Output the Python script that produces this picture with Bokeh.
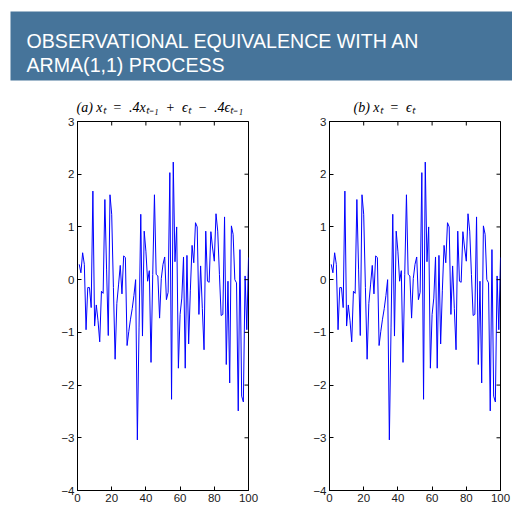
import math
from bokeh.plotting import figure
from bokeh.layouts import column, row
from bokeh.models import Range1d, FixedTicker
from bokeh.core.properties import value
from bokeh.embed import file_html
from bokeh.resources import INLINE

# ---------------- data ----------------
banner_lines = ["OBSERVATIONAL EQUIVALENCE WITH AN", "ARMA(1,1) PROCESS"]
panel_titles = ["(a) xₜ\u2002=\u2002.4xₜ₋₁\u2002+\u2002ϵₜ\u2002−\u2002.4ϵₜ₋₁",
                "(b) xₜ\u2002=\u2002ϵₜ"]

time_index = list(range(1, 101))

series_arma = [
    0.29, 0.13, 0.51, 0.29, -0.95, -0.15, -0.15, -0.53, 1.68, -0.88,
    -0.48, -0.78, -1.18, -0.22, -0.26, 1.52, 0.20, -1.06, 1.61, 1.24,
    -0.15, -1.51, -0.45, -0.10, 0.27, -0.27, 0.45, 0.42, -1.25, -0.98,
    -0.75, -0.55, -0.30, 0.00, -3.04, -0.90, 1.24, -1.07, 0.92, 0.54,
    -0.03, 0.17, -1.57, 0.10, 1.61, 0.10, 0.07, -0.73, 0.02, 0.29,
    0.43, -0.38, -0.24, 2.03, -2.27, 2.23, 0.34, 1.00, -1.68, -0.66,
    -0.35, 0.43, -1.68, 0.46, -1.22, -0.20, 0.65, 0.32, 1.08, 1.00,
    -0.66, 0.26, -0.55, -1.33, 0.92, -0.03, -0.05, 0.91, 0.60, 0.35,
    1.25, 0.92, 0.10, -0.68, -0.66, 1.19, -1.61, -0.03, -1.96, 1.02,
    0.86, 0.00, -0.06, -2.49, 0.57, -2.21, -2.32, 0.07, -0.95, 0.42,
]
series_white = [
    0.29, 0.13, 0.51, 0.29, -0.95, -0.15, -0.15, -0.53, 1.68, -0.88,
    -0.48, -0.78, -1.18, -0.22, -0.26, 1.52, 0.20, -1.06, 1.61, 1.24,
    -0.15, -1.51, -0.45, -0.10, 0.27, -0.27, 0.45, 0.42, -1.25, -0.98,
    -0.75, -0.55, -0.30, 0.00, -3.04, -0.90, 1.24, -1.07, 0.92, 0.54,
    -0.03, 0.17, -1.57, 0.10, 1.61, 0.10, 0.07, -0.73, 0.02, 0.29,
    0.43, -0.38, -0.24, 2.03, -2.27, 2.23, 0.34, 1.00, -1.68, -0.66,
    -0.35, 0.43, -1.68, 0.46, -1.22, -0.20, 0.65, 0.32, 1.08, 1.00,
    -0.66, 0.26, -0.55, -1.33, 0.92, -0.03, -0.05, 0.91, 0.60, 0.35,
    1.25, 0.92, 0.10, -0.68, -0.66, 1.19, -1.61, -0.03, -1.96, 1.02,
    0.86, 0.00, -0.06, -2.49, 0.57, -2.21, -2.32, 0.07, -0.95, 0.42,
]

x_ticks = [0, 20, 40, 60, 80, 100]
y_ticks = [-4, -3, -2, -1, 0, 1, 2, 3]
y_tick_labels = {-4: "−4", -3: "−3", -2: "−2", -1: "−1", 0: "0", 1: "1", 2: "2", 3: "3"}

# ---------------- styles ----------------
BANNER_BG = "#46749a"
LINE_BLUE = "#0000ff"
TICK_FONT = "Liberation Sans"
TITLE_FONT = "Liberation Serif"
HEADER_H = 88

# ---------------- banner ----------------
banner = figure(width=512, height=HEADER_H, x_range=Range1d(0, 512), y_range=Range1d(HEADER_H, 0),
                output_backend="svg", toolbar_location=None, min_border=0,
                x_axis_type=None, y_axis_type=None, outline_line_color=None)
banner.grid.visible = False
banner.quad(left=[10], right=[512], top=[11], bottom=[80], fill_color=BANNER_BG, line_color=None)
banner.text(x=[26, 26], y=[40.7, 64.3], text=banner_lines, text_font=value("Liberation Sans"),
            text_font_size="19.6px", text_color="white", text_baseline="alphabetic", text_align="left")


def style_axis(ax, ticks, overrides=None):
    ax.ticker = FixedTicker(ticks=ticks)
    ax.major_tick_in = 4
    ax.major_tick_out = 0
    ax.minor_tick_line_color = None
    ax.axis_line_color = "black"
    ax.major_tick_line_color = "black"
    ax.major_label_text_font = TICK_FONT
    ax.major_label_text_font_size = "11.5px"
    ax.major_label_text_color = "#1a1a1a"
    ax.major_label_standoff = 3
    if overrides:
        ax.major_label_overrides = overrides


def make_panel(values, width, border_left, title, title_offset):
    frame_w = 171
    p = figure(width=width, height=507 - HEADER_H, x_range=Range1d(0, 100), y_range=Range1d(-4, 3),
               min_border_left=border_left, min_border_right=width - border_left - frame_w,
               min_border_top=33, min_border_bottom=17,
               output_backend="svg", toolbar_location=None)
    p.grid.visible = False
    p.outline_line_color = "black"
    p.title.text = title
    p.title.text_font = TITLE_FONT
    p.title.text_font_style = "italic"
    p.title.text_font_size = "14px"
    p.title.text_color = "black"
    p.title.align = "left"
    p.title.offset = title_offset
    p.title.standoff = 14
    p.line(time_index, values, line_color=LINE_BLUE, line_width=1)
    style_axis(p.xaxis[0], x_ticks)
    style_axis(p.yaxis[0], y_ticks, y_tick_labels)
    # inward ticks on the top and right edges of the box (half of each dash is clipped away)
    p.scatter(x=x_ticks, y=[3] * len(x_ticks), marker="dash", size=8, angle=math.pi / 2,
              line_color="black", line_width=1)
    p.scatter(x=[100] * len(y_ticks), y=y_ticks, marker="dash", size=8,
              line_color="black", line_width=1)
    return p


p1 = make_panel(series_arma, 260, 77, panel_titles[0], -1)
p2 = make_panel(series_white, 252, 69, panel_titles[1], 24)

layout = column(banner, row(p1, p2, spacing=0), spacing=0)

open("out.html", "w").write(file_html(layout, INLINE))
